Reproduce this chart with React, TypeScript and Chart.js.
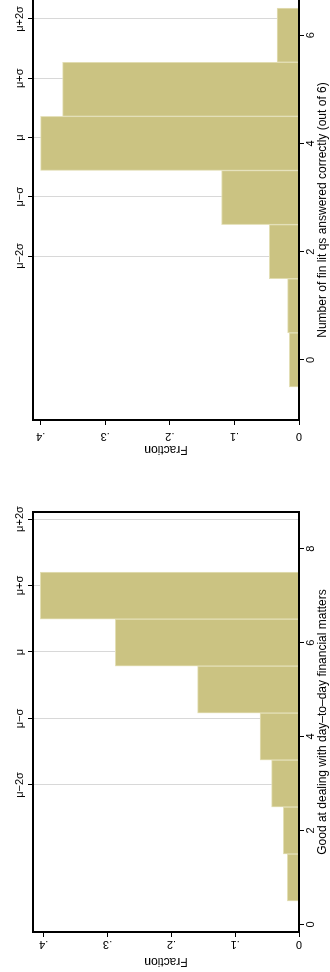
import React, { useEffect, useRef } from 'react';
import { Chart, registerables } from 'chart.js';

Chart.register(...registerables);

const FONT = '"Liberation Sans", Arial, Helvetica, sans-serif';

// ---- Panel 1: financial literacy score ----
const FIN_LIT_SCORES = [0, 1, 2, 3, 4, 5, 6];
const FIN_LIT_FRACTION = [0.015, 0.0175, 0.046, 0.12, 0.4, 0.366, 0.034];
const FIN_LIT_SCORE_TICKS = [0, 2, 4, 6];
const FIN_LIT_MEAN = 4.11;
const FIN_LIT_SD = 1.095;
const FIN_LIT_TITLE = 'Number of fin lit qs answered correctly (out of 6)';

// ---- Panel 2: good at day-to-day financial matters ----
const DAY_SCORES = [1, 2, 3, 4, 5, 6, 7];
const DAY_FRACTION = [0.0183, 0.0246, 0.043, 0.061, 0.159, 0.288, 0.4055];
const DAY_SCORE_TICKS = [0, 2, 4, 6, 8];
const DAY_MEAN = 5.8;
const DAY_SD = 1.415;
const DAY_TITLE = 'Good at dealing with day–to–day financial matters';

// ---- shared ----
const FRACTION_TICKS = [0, 0.1, 0.2, 0.3, 0.4];
const FRACTION_TICK_LABELS = ['0', '.1', '.2', '.3', '.4'];
const SIGMA_MULTIPLES = [-2, -1, 0, 1, 2];
const SIGMA_LABELS = ['μ−2σ', 'μ−σ', 'μ', 'μ+σ', 'μ+2σ'];
const Y_TITLE = 'Fraction';

const BAR_FILL = '#cbc382';
const BAR_EDGE = '#e3dfb6';
const GRID = '#d8d8d8';

const CANVAS_W = 486;
const CANVAS_H = 330;

type PanelCfg = {
  top: number;
  areaLeft: number;
  areaRight: number;
  areaTop: number;
  areaBottom: number;
  xMin: number;
  xMax: number;
  yMax: number;
  labelOffset: number;
  titlePad: number;
  drawFarBorder: boolean;
  scores: number[];
  fractions: number[];
  scoreTicks: number[];
  mean: number;
  sd: number;
  title: string;
};

const PANELS: PanelCfg[] = [
  {
    top: 0,
    areaLeft: 66,
    areaRight: 486,
    areaTop: 33,
    areaBottom: 299,
    xMin: -1.11,
    xMax: 6.65,
    yMax: 0.4118,
    labelOffset: 16,
    titlePad: 29.6,
    drawFarBorder: false,
    scores: FIN_LIT_SCORES,
    fractions: FIN_LIT_FRACTION,
    scoreTicks: FIN_LIT_SCORE_TICKS,
    mean: FIN_LIT_MEAN,
    sd: FIN_LIT_SD,
    title: FIN_LIT_TITLE,
  },
  {
    top: 486,
    areaLeft: 40,
    areaRight: 460,
    areaTop: 33,
    areaBottom: 299,
    xMin: -0.16,
    xMax: 8.78,
    yMax: 0.4169,
    labelOffset: 11.7,
    titlePad: 3.6,
    drawFarBorder: true,
    scores: DAY_SCORES,
    fractions: DAY_FRACTION,
    scoreTicks: DAY_SCORE_TICKS,
    mean: DAY_MEAN,
    sd: DAY_SD,
    title: DAY_TITLE,
  },
];

function Panel({ cfg }: { cfg: PanelCfg }) {
  const ref = useRef<HTMLCanvasElement>(null);

  useEffect(() => {
    const canvas = ref.current;
    if (!canvas) return;

    const framePlugin = {
      id: 'frameAndLabels',
      afterDatasetsDraw(chart: any) {
        const { ctx, chartArea: a } = chart;
        ctx.save();
        ctx.strokeStyle = '#000';
        ctx.lineWidth = 2;
        ctx.beginPath();
        ctx.moveTo(a.right, a.top);
        ctx.lineTo(a.left, a.top);
        ctx.lineTo(a.left, a.bottom);
        ctx.lineTo(a.right, a.bottom);
        if (cfg.drawFarBorder) ctx.lineTo(a.right, a.top - 1);
        ctx.stroke();
        ctx.restore();
      },
      afterDraw(chart: any) {
        const { ctx, chartArea: a } = chart;
        const y = chart.scales.y;
        ctx.save();
        ctx.font = `11px ${FONT}`;
        ctx.fillStyle = '#000';
        ctx.textAlign = 'center';
        ctx.textBaseline = 'middle';
        FRACTION_TICKS.forEach((v, i) => {
          const py = y.getPixelForValue(v);
          ctx.save();
          ctx.translate(a.left - cfg.labelOffset, py);
          ctx.rotate(-Math.PI / 2);
          ctx.fillText(FRACTION_TICK_LABELS[i], 0, 0);
          ctx.restore();
        });
        ctx.restore();
      },
    };

    const chart = new Chart(canvas, {
      type: 'bar',
      data: {
        datasets: [
          {
            data: cfg.scores.map((s, i) => ({ x: s, y: cfg.fractions[i] })),
            backgroundColor: BAR_FILL,
            borderColor: BAR_EDGE,
            borderWidth: 1,
            barPercentage: 1,
            categoryPercentage: 1,
            xAxisID: 'x',
            yAxisID: 'y',
          },
        ],
      },
      options: {
        responsive: false,
        animation: false,
        devicePixelRatio: 1,
        layout: { padding: { left: 0, right: CANVAS_W - cfg.areaRight, top: 0, bottom: 0 } },
        plugins: { legend: { display: false }, tooltip: { enabled: false } },
        scales: {
          x: {
            type: 'linear',
            position: 'bottom',
            min: cfg.xMin,
            max: cfg.xMax,
            offset: false,
            afterBuildTicks: (s: any) => {
              s.ticks = cfg.scoreTicks.map((v) => ({ value: v }));
            },
            afterFit: (s: any) => {
              s.height = CANVAS_H - cfg.areaBottom;
              s.paddingLeft = 0;
              s.paddingRight = 0;
            },
            grid: {
              display: true,
              offset: false,
              drawOnChartArea: false,
              drawTicks: true,
              tickLength: 5,
              tickColor: '#000',
              tickWidth: 1,
            },
            border: { display: false },
            ticks: {
              font: { size: 11, family: FONT },
              color: '#000',
              padding: 0,
              minRotation: 0,
              maxRotation: 0,
              autoSkip: false,
              callback: (v: any) => String(v),
            },
            title: {
              display: true,
              text: cfg.title,
              color: '#000',
              font: { size: 12, family: FONT },
              padding: { top: 0, bottom: 0 },
            },
          },
          xTop: {
            type: 'linear',
            position: 'top',
            min: cfg.xMin,
            max: cfg.xMax,
            offset: false,
            afterBuildTicks: (s: any) => {
              s.ticks = SIGMA_MULTIPLES.map((k) => ({ value: cfg.mean + k * cfg.sd }));
            },
            afterFit: (s: any) => {
              s.height = cfg.areaTop;
              s.paddingLeft = 0;
              s.paddingRight = 0;
            },
            grid: {
              display: true,
              offset: false,
              drawOnChartArea: true,
              color: GRID,
              lineWidth: 1,
              drawTicks: true,
              tickLength: 5,
              tickColor: '#000',
              tickWidth: 1,
            },
            border: { display: false },
            ticks: {
              font: { size: 11, family: FONT },
              color: '#000',
              padding: 1,
              minRotation: 0,
              maxRotation: 0,
              autoSkip: false,
              callback: (_v: any, i: number) => SIGMA_LABELS[i],
            },
          },
          y: {
            type: 'linear',
            position: 'left',
            min: 0,
            max: cfg.yMax,
            afterBuildTicks: (s: any) => {
              s.ticks = FRACTION_TICKS.map((v) => ({ value: v }));
            },
            afterFit: (s: any) => {
              s.width = cfg.areaLeft;
              s.paddingTop = 0;
              s.paddingBottom = 0;
            },
            grid: {
              display: true,
              drawOnChartArea: false,
              drawTicks: true,
              tickLength: 5,
              tickColor: '#000',
              tickWidth: 1,
            },
            border: { display: false },
            ticks: { display: false },
            title: {
              display: true,
              text: Y_TITLE,
              color: '#000',
              font: { size: 12, family: FONT },
              padding: { top: cfg.titlePad, bottom: 0 },
            },
          },
        },
      } as any,
      plugins: [framePlugin],
    });

    return () => chart.destroy();
  }, [cfg]);

  return (
    <canvas
      ref={ref}
      width={CANVAS_W}
      height={CANVAS_H}
      style={{
        position: 'absolute',
        left: 0,
        top: cfg.top,
        width: CANVAS_W,
        height: CANVAS_H,
        display: 'block',
        transformOrigin: '0 0',
        transform: `translateY(${CANVAS_W}px) rotate(-90deg)`,
      }}
    />
  );
}

export default function App() {
  return (
    <div
      style={{
        position: 'absolute',
        left: 0,
        top: 0,
        width: 330,
        height: 972,
        overflow: 'hidden',
        background: '#fff',
      }}
    >
      {PANELS.map((p, i) => (
        <Panel key={i} cfg={p} />
      ))}
    </div>
  );
}
